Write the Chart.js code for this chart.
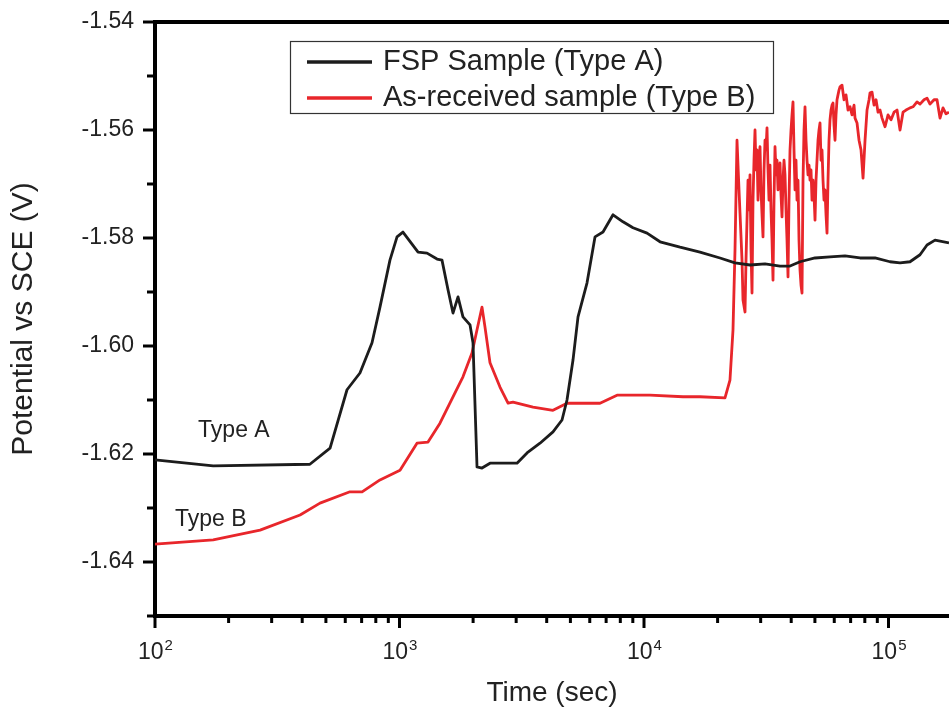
<!DOCTYPE html>
<html>
<head>
<meta charset="utf-8">
<script src="https://cdn.jsdelivr.net/npm/chart.js@4.4.0/dist/chart.umd.min.js"></script>
<style>
  html, body { margin: 0; padding: 0; background: #fff; overflow: hidden; }
</style>
</head>
<body>
<canvas id="chart" width="949" height="710"></canvas>
<script>
// Type A - FSP sample
const timeA = [100, 173, 430, 520, 610, 689, 772, 832, 914, 977, 1033, 1191, 1296, 1424, 1492, 1579, 1655, 1735, 1818, 1943, 1998, 2075, 2175, 2345, 3024, 3323, 3755, 4244, 4620, 4842, 5124, 5372, 5848, 6303, 6797, 7469, 8206, 9016, 10290, 11630, 14040,
  16940, 20459, 23561, 27136, 31254, 35997, 39552, 43458, 50052, 57646, 66390, 76460, 88070, 101422, 111460, 122462, 134550, 143719, 154992, 176773];
const potentialA = [-1.6211, -1.6222, -1.6219, -1.6189, -1.6081, -1.605, -1.5994, -1.5928, -1.5841, -1.5798, -1.5789, -1.5826, -1.5828, -1.5839, -1.5841, -1.5896, -1.5939, -1.5909, -1.5946, -1.5961, -1.5994, -1.6224, -1.6226, -1.6217, -1.6217, -1.6198, -1.618, -1.6159, -1.6137, -1.61, -1.6026, -1.5946, -1.5883, -1.5798, -1.5789, -1.5757, -1.577, -1.5781, -1.5791, -1.5807, -1.5817,
  -1.5826, -1.5837, -1.5846, -1.585, -1.5848, -1.5852, -1.5852, -1.5844, -1.5837, -1.5835, -1.5833, -1.5837, -1.5837, -1.5844, -1.5846, -1.5844, -1.5831, -1.5813, -1.5804, -1.5809];

// Type B - as-received sample
const timeB = [100, 173, 269, 392, 473, 627, 703, 832, 1005, 1179, 1308, 1464, 1655, 1818, 1979, 2075, 2175, 2237, 2345, 2576, 2779, 2912, 3516, 4244, 4842, 6607, 7756, 10580, 14440, 16940, 21440, 22470,
  23121, 23561, 24009, 24466, 24697, 25167, 25405, 25888, 26133, 26630, 26882, 27136, 27393, 27652, 27914, 28178, 28445, 28714, 28986, 29260, 29537, 29816,
  30098, 30383, 30671, 30961, 31254, 31550, 31848, 32150, 32454, 32761, 33071, 33384, 33700, 34019, 34341, 34666, 34994, 35325, 35659, 35997,
  36337, 36681, 37028, 37379, 37732, 38089, 38450, 38814, 39181, 39552, 39926, 40304, 40685, 41070, 41459, 41851, 42247, 42647, 43050, 43458,
  43869, 44284, 44703, 45126, 45553, 45984, 46419, 46858, 47302, 47749, 48201, 48657, 49118, 49582, 50052, 50525, 51003, 51486, 51973, 52465,
  52961, 53462, 53968, 54479, 54994, 55515, 56040, 56570, 57106, 57646, 58191, 58742, 59298, 59859, 60425, 60997, 61574, 62157, 62745, 63339,
  64544, 65772, 67024, 68299, 69599, 70923, 72273, 72957, 74346, 75760, 77202, 78671, 80168, 81693, 83248, 84036, 85635, 87265, 88925, 90617,
  92342, 94099, 96792, 99563, 102412, 105343, 108358, 111460, 114650, 117931, 122462, 125966, 130807, 134550, 139720, 143719, 147832, 153512,
  157906, 162425, 167073, 171855, 176773];
const potentialB = [-1.6367, -1.6359, -1.6341, -1.6313, -1.6291, -1.627, -1.627, -1.6248, -1.623, -1.618, -1.6178, -1.6143, -1.6094, -1.6057, -1.6013, -1.597, -1.5928, -1.5965, -1.6031, -1.6076, -1.6106, -1.6104, -1.6113, -1.6119, -1.6106, -1.6106, -1.6091, -1.6091, -1.6094, -1.6094, -1.6096, -1.6063,
  -1.597, -1.5822, -1.5619, -1.5711, -1.5754, -1.5841, -1.5915, -1.5937, -1.5841, -1.5693, -1.5748, -1.5683, -1.5822, -1.5902, -1.573, -1.5656, -1.56, -1.5674, -1.5637, -1.573, -1.5656, -1.5631,
  -1.5711, -1.5757, -1.5798, -1.5674, -1.5619, -1.5637, -1.5596, -1.5674, -1.573, -1.5665, -1.5748, -1.5804, -1.5878, -1.573, -1.5631, -1.5683, -1.5656, -1.5711, -1.5683, -1.5661,
  -1.572, -1.5761, -1.5693, -1.5656, -1.5683, -1.5748, -1.5804, -1.5872, -1.573, -1.5637, -1.56, -1.5572, -1.5548, -1.5637, -1.5711, -1.5656, -1.573, -1.5693, -1.5804, -1.5859,
  -1.5887, -1.5902, -1.5693, -1.56, -1.5557, -1.5619, -1.5656, -1.5683, -1.5665, -1.5693, -1.5674, -1.573, -1.5693, -1.572, -1.5767, -1.5693, -1.5656, -1.5619, -1.56, -1.5587,
  -1.5656, -1.5637, -1.5693, -1.573, -1.5711, -1.5757, -1.5791, -1.5693, -1.5619, -1.5581, -1.5563, -1.5554, -1.555, -1.5591, -1.5619, -1.5572, -1.5544, -1.5535, -1.5526, -1.552,
  -1.5517, -1.5544, -1.5535, -1.5563, -1.5557, -1.5572, -1.5554, -1.5578, -1.5587, -1.5619, -1.5637, -1.5689, -1.5619, -1.5563, -1.5544, -1.5531, -1.553, -1.5554, -1.5544, -1.5567,
  -1.5563, -1.5578, -1.5594, -1.5572, -1.5581, -1.5567, -1.5563, -1.56, -1.5567, -1.5563, -1.5559, -1.5557, -1.5548, -1.5552, -1.5544, -1.5541, -1.5552, -1.5544,
  -1.5544, -1.5578, -1.5559, -1.557, -1.5567];

const seriesLabels = ['FSP Sample (Type A)', 'As-received sample (Type B)'];
const curveNotes = ['Type A', 'Type B'];
const decades = [2, 3, 4, 5];
const xMin = 100, xMax = 176773;
const yMin = -1.65, yMax = -1.54;

const FONT = '"Liberation Sans", Arial, sans-serif';
Chart.defaults.font.family = FONT;
Chart.defaults.color = '#222';

const xTicks = [];
decades.forEach(d => {
  for (let m = 1; m <= 9; m++) {
    const v = m * Math.pow(10, d);
    if (v <= xMax) xTicks.push(v);
  }
});

const isMajorY = v => Math.round(Math.abs(v) * 100) % 2 === 0;

// axes ticks, top frame, x labels, legend box and curve notes
const decorations = {
  id: 'decorations',
  afterDraw(chart) {
    const { ctx, chartArea: a, scales: { x, y } } = chart;
    ctx.save();
    ctx.strokeStyle = '#000';
    ctx.lineCap = 'butt';

    ctx.lineWidth = 4;
    ctx.beginPath();
    ctx.moveTo(a.left - 2, a.top);
    ctx.lineTo(a.right, a.top);
    ctx.stroke();

    ctx.lineWidth = 3;
    y.ticks.forEach(t => {
      const py = y.getPixelForValue(t.value);
      const len = isMajorY(t.value) ? 12 : 8;
      ctx.beginPath();
      ctx.moveTo(a.left - len, py);
      ctx.lineTo(a.left, py);
      ctx.stroke();
    });
    xTicks.forEach(v => {
      const px = x.getPixelForValue(v);
      const major = Math.abs(Math.log10(v) - Math.round(Math.log10(v))) < 1e-9;
      ctx.beginPath();
      ctx.moveTo(px, a.bottom);
      ctx.lineTo(px, a.bottom + (major ? 12 : 7));
      ctx.stroke();
    });

    // x tick labels 10^n
    ctx.fillStyle = '#222';
    ctx.textBaseline = 'alphabetic';
    ctx.textAlign = 'left';
    decades.forEach(d => {
      const px = x.getPixelForValue(Math.pow(10, d));
      ctx.font = '23px ' + FONT;
      const w1 = ctx.measureText('10').width;
      ctx.font = '15px ' + FONT;
      const w2 = ctx.measureText(String(d)).width;
      const sx = px - (w1 + w2) / 2;
      ctx.font = '23px ' + FONT;
      ctx.fillText('10', sx, 659);
      ctx.font = '15px ' + FONT;
      ctx.fillText(String(d), sx + w1 + 1, 650);
    });

    // legend
    ctx.lineWidth = 1.2;
    ctx.strokeStyle = '#333';
    ctx.strokeRect(290.5, 41.5, 483, 72);
    chart.data.datasets.forEach((ds, i) => {
      const ly = 62 + i * 36;
      ctx.strokeStyle = ds.borderColor;
      ctx.lineWidth = 3.5;
      ctx.beginPath();
      ctx.moveTo(307, ly);
      ctx.lineTo(372, ly);
      ctx.stroke();
      ctx.font = '29px ' + FONT;
      ctx.fillStyle = '#222';
      ctx.fillText(ds.label, 383, ly + 7.5);
    });

    // curve notes
    ctx.font = '23px ' + FONT;
    ctx.fillStyle = '#222';
    ctx.fillText(curveNotes[0], x.getPixelForValue(150), y.getPixelForValue(-1.6169));
    ctx.fillText(curveNotes[1], x.getPixelForValue(120.7), y.getPixelForValue(-1.6333));
    ctx.restore();
  }
};

new Chart(document.getElementById('chart'), {
  type: 'line',
  data: {
    datasets: [
      {
        label: seriesLabels[0],
        data: timeA.map((t, i) => ({ x: t, y: potentialA[i] })),
        borderColor: '#1c1c1c',
        borderWidth: 2.8,
        borderJoinStyle: 'round',
        pointRadius: 0,
        tension: 0
      },
      {
        label: seriesLabels[1],
        data: timeB.map((t, i) => ({ x: t, y: potentialB[i] })),
        borderColor: '#e8262b',
        borderWidth: 2.8,
        borderJoinStyle: 'round',
        pointRadius: 0,
        tension: 0
      }
    ]
  },
  options: {
    responsive: false,
    animation: false,
    layout: { padding: { top: 22, right: 0, bottom: 0, left: 0 } },
    plugins: {
      legend: { display: false },
      tooltip: { enabled: false }
    },
    scales: {
      x: {
        type: 'logarithmic',
        min: xMin,
        max: xMax,
        afterBuildTicks: s => { s.ticks = xTicks.map(v => ({ value: v })); },
        afterFit: s => { s.height = 94; },
        ticks: { display: false },
        grid: { display: false, drawTicks: false },
        border: { display: true, color: '#000', width: 4 },
        title: {
          display: true,
          text: 'Time (sec)',
          color: '#222',
          font: { size: 28 },
          padding: { top: 0, bottom: 0 }
        }
      },
      y: {
        min: yMin,
        max: yMax,
        afterFit: s => { s.width = 155; },
        ticks: {
          stepSize: 0.01,
          autoSkip: false,
          padding: 0,
          color: '#222',
          font: { size: 23 },
          callback: v => isMajorY(v) ? v.toFixed(2) : ''
        },
        // invisible tick marks keep the labels clear of the axis
        grid: { display: true, drawOnChartArea: false, drawTicks: true, tickLength: 21, tickColor: 'rgba(0,0,0,0)' },
        border: { display: true, color: '#000', width: 4 },
        title: {
          display: true,
          text: 'Potential vs SCE (V)',
          color: '#222',
          font: { size: 30 },
          padding: { top: 6, bottom: 0 }
        }
      }
    }
  },
  plugins: [decorations]
});
</script>
</body>
</html>
